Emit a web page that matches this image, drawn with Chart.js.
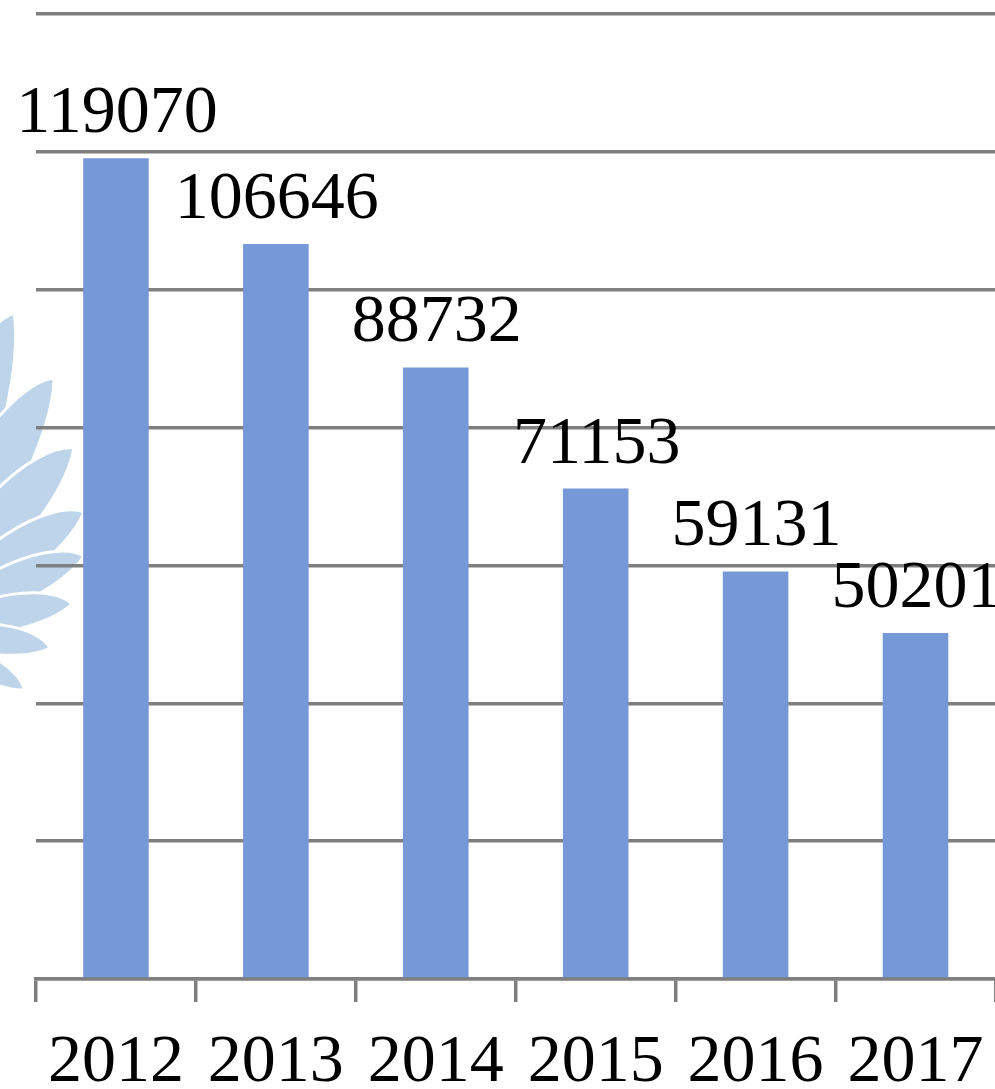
<!DOCTYPE html>
<html>
<head>
<meta charset="utf-8">
<script src="https://cdn.jsdelivr.net/npm/chart.js@4"></script>
<style>
html,body{margin:0;padding:0;background:#fff;overflow:hidden;width:995px;height:1089px;}
#wrap{width:995px;height:1089px;position:relative;overflow:hidden;}
#c{position:absolute;left:0;top:0;}
</style>
</head>
<body>
<div id="wrap"><canvas id="c" width="1004" height="1089"></canvas></div>
<script>
const categories = ["2012","2013","2014","2015","2016","2017"];
const values = [119070,106646,88732,71153,59131,50201];
const yTicks = [0,20000,40000,60000,80000,100000,120000,140000];

const FONT = '"Liberation Serif", "Times New Roman", serif';

const watermark = {
  id:'watermark',
  beforeDraw(chart){
    const ctx = chart.ctx;
    ctx.save();
    const cx=-80, cy=640;
    const petals=[[14,313,70],[54,378,66],[74,448,60],[84,512,52],[84,556,46],[72,604,40],[50,648,34],[24,690,28]];
    ctx.fillStyle='#bdd4eb';
    ctx.strokeStyle='#ffffff';
    ctx.lineWidth=3;
    petals.forEach(([tx,ty,w])=>{
      const dx=tx-cx, dy=ty-cy;
      const len=Math.hypot(dx,dy);
      const ang=Math.atan2(dy,dx);
      ctx.save();
      ctx.translate(cx,cy);
      ctx.rotate(ang);
      ctx.beginPath();
      ctx.moveTo(0,0);
      ctx.bezierCurveTo(len*0.45,-w*1.0,len*0.92,-w*0.55,len,0);
      ctx.bezierCurveTo(len*0.85,w*0.35,len*0.45,w*0.45,0,0);
      ctx.closePath();
      ctx.fill();
      ctx.stroke();
      ctx.restore();
    });
    ctx.restore();
  }
};

const valueLabels = {
  id:'valueLabels',
  afterDatasetsDraw(chart){
    const ctx=chart.ctx;
    const meta=chart.getDatasetMeta(0);
    ctx.save();
    ctx.font='68px '+FONT;
    ctx.fillStyle='#000';
    ctx.textAlign='center';
    ctx.textBaseline='alphabetic';
    meta.data.forEach((bar,i)=>{
      ctx.fillText(String(chart.data.datasets[0].data[i]), bar.x+1, bar.y-26);
    });
    ctx.restore();
  }
};

new Chart(document.getElementById('c'),{
  type:'bar',
  data:{
    labels:categories,
    datasets:[{data:values,backgroundColor:'#7698d7',borderWidth:0,barPercentage:0.41,categoryPercentage:1}]
  },
  options:{
    responsive:false,
    devicePixelRatio:1,
    animation:false,
    layout:{padding:{left:0,right:6,top:14,bottom:0}},
    plugins:{legend:{display:false},tooltip:{enabled:false}},
    scales:{
      x:{
        grid:{display:true,drawOnChartArea:false,color:'#7f7f7f',lineWidth:3.5,tickLength:23,offset:true},
        border:{display:true,color:'#7f7f7f',width:3.5},
        ticks:{color:'#000',font:{family:FONT,size:68},padding:20,maxRotation:0,autoSkip:false},
        afterFit(s){s.height=110;}
      },
      y:{
        min:0,max:140000,
        afterBuildTicks(s){s.ticks=yTicks.map(v=>({value:v}));},
        grid:{color:'#7f7f7f',lineWidth:3.5,tickLength:0,drawTicks:false},
        border:{display:false},
        ticks:{display:false},
        afterFit(s){s.width=36;}
      }
    }
  },
  plugins:[watermark,valueLabels]
});
</script>
</body>
</html>
